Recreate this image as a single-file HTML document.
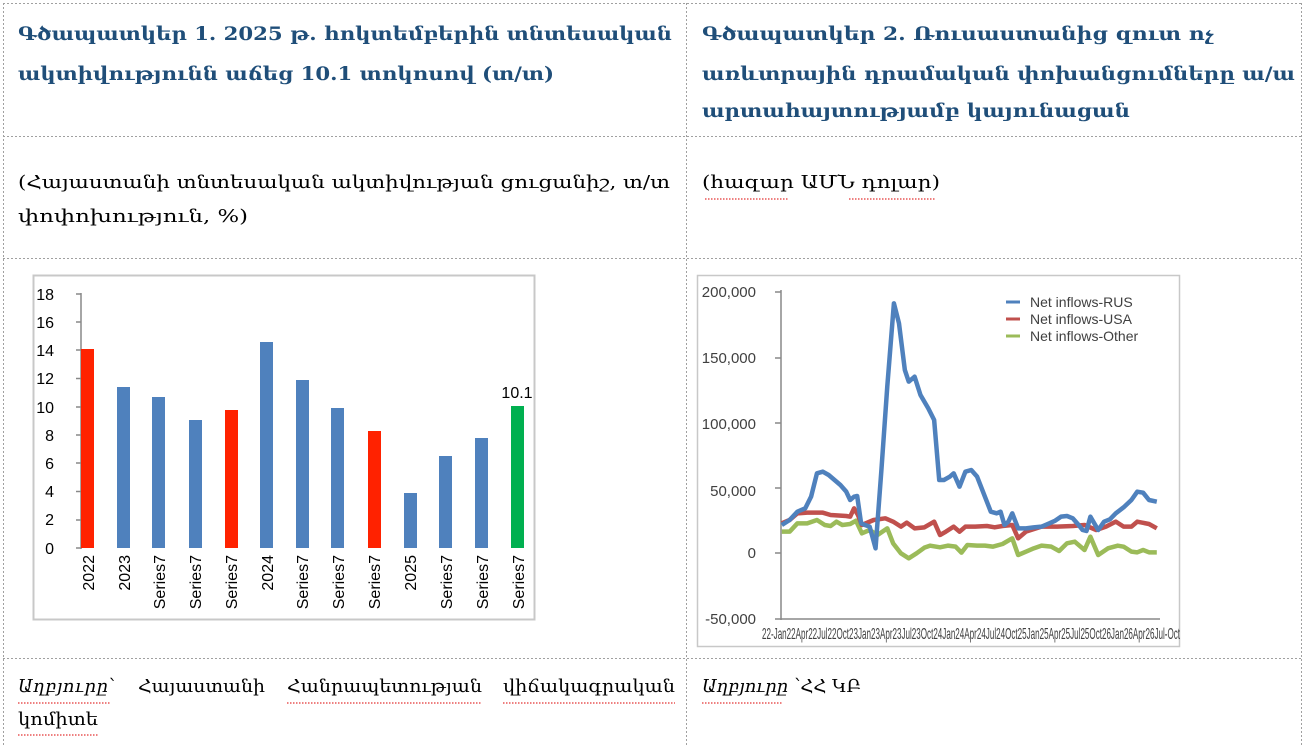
<!DOCTYPE html>
<html><head><meta charset="utf-8"><style>
html,body{margin:0;padding:0;background:#fff;}
svg{display:block}
.t{font-family:"DejaVu Serif","Liberation Serif",serif;}
.s{font-family:"Liberation Sans","DejaVu Sans",sans-serif;}
</style></head><body>
<svg width="1303" height="745" viewBox="0 0 1303 745" xmlns="http://www.w3.org/2000/svg">
<rect width="1303" height="745" fill="#fff"/>
<g stroke="#a0a0a0" stroke-width="1" stroke-dasharray="2,2" fill="none">
<line x1="3" y1="3.5" x2="1303" y2="3.5"/>
<line x1="3" y1="136.5" x2="1303" y2="136.5"/>
<line x1="3" y1="258.5" x2="1303" y2="258.5"/>
<line x1="3" y1="658.5" x2="1303" y2="658.5"/>
<line x1="3.5" y1="3" x2="3.5" y2="745"/>
<line x1="686.5" y1="3" x2="686.5" y2="745"/>
<line x1="1301.5" y1="3" x2="1301.5" y2="745"/>
</g>
<g class="t" fill="#1f4e79" font-weight="bold" font-size="19">
<text x="18" y="40" textLength="654" lengthAdjust="spacingAndGlyphs">Գծապատկեր 1. 2025 թ. հոկտեմբերին տնտեսական</text>
<text x="18" y="80" textLength="536" lengthAdjust="spacingAndGlyphs">ակտիվությունն աճեց 10.1 տոկոսով (տ/տ)</text>
<text x="702" y="40" textLength="512" lengthAdjust="spacingAndGlyphs">Գծապատկեր 2.  Ռուսաստանից զուտ ոչ</text>
<text x="702" y="80" textLength="593" lengthAdjust="spacingAndGlyphs">առևտրային դրամական փոխանցումները ա/ա</text>
<text x="702" y="117" textLength="428" lengthAdjust="spacingAndGlyphs">արտահայտությամբ կայունացան</text>
</g>
<g class="t" fill="#000" font-size="18">
<text x="18" y="188" textLength="652" lengthAdjust="spacingAndGlyphs">(Հայաստանի տնտեսական ակտիվության ցուցանիշ, տ/տ</text>
<text x="18" y="222" textLength="230" lengthAdjust="spacingAndGlyphs">փոփոխություն, %)</text>
<text x="702" y="188" textLength="238" lengthAdjust="spacingAndGlyphs">(հազար ԱՄՆ դոլար)</text>
<text x="18" y="692"><tspan font-style="italic" textLength="90">Աղբյուրը</tspan>՝</text>
<text x="138" y="692" textLength="127" lengthAdjust="spacingAndGlyphs">Հայաստանի</text>
<text x="287" y="692" textLength="195" lengthAdjust="spacingAndGlyphs">Հանրապետության</text>
<text x="503" y="692" textLength="172" lengthAdjust="spacingAndGlyphs">վիճակագրական</text>
<text x="18" y="725" textLength="80" lengthAdjust="spacingAndGlyphs">կոմիտե</text>
<text x="702" y="692"><tspan font-style="italic">Աղբյուրը</tspan> ՝ՀՀ ԿԲ</text>
</g>
<g stroke="#d00" stroke-width="1" fill="none" stroke-dasharray="1.5,1.5">
<line x1="18" y1="703" x2="110" y2="703"/><line x1="287" y1="703" x2="482" y2="703"/><line x1="503" y1="703" x2="675" y2="703"/><line x1="18" y1="735" x2="98" y2="735"/>
<line x1="702" y1="703" x2="782" y2="703"/><line x1="705" y1="199" x2="788" y2="199"/><line x1="849" y1="199" x2="935" y2="199"/>
</g>

<!-- Chart 1 -->
<rect x="33.5" y="275.5" width="501" height="344" fill="#fff" stroke="#c8c8c8" stroke-width="2"/>
<g class="s" font-size="16" fill="#000" text-anchor="end">
<text x="54" y="300">18</text><text x="54" y="328">16</text><text x="54" y="356">14</text><text x="54" y="384">12</text><text x="54" y="413">10</text><text x="54" y="441">8</text><text x="54" y="469">6</text><text x="54" y="497">4</text><text x="54" y="525">2</text><text x="54" y="554">0</text>
</g>
<g stroke="#888" stroke-width="1.5">
<line x1="81" y1="293" x2="81" y2="549"/>
<line x1="76" y1="294" x2="81" y2="294"/><line x1="76" y1="322" x2="81" y2="322"/><line x1="76" y1="350" x2="81" y2="350"/><line x1="76" y1="378.5" x2="81" y2="378.5"/><line x1="76" y1="407" x2="81" y2="407"/><line x1="76" y1="435" x2="81" y2="435"/><line x1="76" y1="463" x2="81" y2="463"/><line x1="76" y1="491.5" x2="81" y2="491.5"/><line x1="76" y1="520" x2="81" y2="520"/><line x1="76" y1="548" x2="81" y2="548"/>
</g>
<g>
<rect x="81" y="349" width="13" height="199" fill="#ff2200"/>
<rect x="117" y="387" width="13" height="161" fill="#4f81bd"/>
<rect x="152" y="397" width="13" height="151" fill="#4f81bd"/>
<rect x="189" y="420" width="13" height="128" fill="#4f81bd"/>
<rect x="225" y="410" width="13" height="138" fill="#ff2200"/>
<rect x="260" y="342" width="13" height="206" fill="#4f81bd"/>
<rect x="296" y="380" width="13" height="168" fill="#4f81bd"/>
<rect x="331" y="408" width="13" height="140" fill="#4f81bd"/>
<rect x="368" y="431" width="13" height="117" fill="#ff2200"/>
<rect x="404" y="493" width="13" height="55" fill="#4f81bd"/>
<rect x="439" y="456" width="13" height="92" fill="#4f81bd"/>
<rect x="475" y="438" width="13" height="110" fill="#4f81bd"/>
<rect x="511" y="406" width="13" height="142" fill="#00b050"/>
</g>
<text class="s" x="517" y="398" font-size="16" text-anchor="middle">10.1</text>
<g class="s" font-size="16" fill="#000" text-anchor="end">
<text transform="translate(94,555) rotate(-90)">2022</text>
<text transform="translate(130,555) rotate(-90)">2023</text>
<text transform="translate(165,555) rotate(-90)">Series7</text>
<text transform="translate(201,555) rotate(-90)">Series7</text>
<text transform="translate(237,555) rotate(-90)">Series7</text>
<text transform="translate(273,555) rotate(-90)">2024</text>
<text transform="translate(308,555) rotate(-90)">Series7</text>
<text transform="translate(344,555) rotate(-90)">Series7</text>
<text transform="translate(380,555) rotate(-90)">Series7</text>
<text transform="translate(416,555) rotate(-90)">2025</text>
<text transform="translate(452,555) rotate(-90)">Series7</text>
<text transform="translate(488,555) rotate(-90)">Series7</text>
<text transform="translate(524,555) rotate(-90)">Series7</text>
</g>

<!-- Chart 2 -->
<rect x="697.5" y="275.5" width="482" height="371" fill="#fff" stroke="#c8c8c8" stroke-width="1.5"/>
<g class="s" font-size="15" fill="#404040" text-anchor="end">
<text x="756" y="297">200,000</text><text x="756" y="363">150,000</text><text x="756" y="429">100,000</text><text x="756" y="496">50,000</text><text x="756" y="558">0</text><text x="756" y="624">-50,000</text>
</g>
<g stroke="#888" stroke-width="1.5">
<line x1="781" y1="290" x2="781" y2="620"/><line x1="781" y1="619" x2="1160" y2="619"/>
<line x1="775" y1="292" x2="781" y2="292"/><line x1="775" y1="358" x2="781" y2="358"/><line x1="775" y1="423" x2="781" y2="423"/><line x1="775" y1="488" x2="781" y2="488"/><line x1="775" y1="553" x2="781" y2="553"/><line x1="775" y1="619" x2="781" y2="619"/>
</g>
<text class="s" x="762" y="639" font-size="16" fill="#404040" textLength="418" lengthAdjust="spacingAndGlyphs">22-Jan22Apr22Jul22Oct23Jan23Apr23Jul23Oct24Jan24Apr24Jul24Oct25Jan25Apr25Jul25Oct26Jan26Apr26Jul-Oct</text>
<g transform="translate(690,270) scale(0.390625,0.33333)" fill="none" stroke-width="4.5" stroke-linejoin="round">
<polyline vector-effect="non-scaling-stroke" stroke="#9bbb59" points="235,785 255,785 275,760 300,760 325,750 345,765 360,768 375,755 390,765 410,762 425,752 440,790 460,780 480,795 505,775 520,820 540,850 560,865 580,850 600,833 615,827 640,832 660,827 680,830 695,848 710,825 735,827 755,827 775,830 800,822 825,805 840,855 860,845 880,835 900,827 925,830 945,843 965,820 985,815 1010,840 1025,800 1045,855 1070,835 1095,827 1110,830 1130,845 1145,847 1160,840 1175,847 1195,847"/>
<polyline vector-effect="non-scaling-stroke" stroke="#c0504d" points="235,760 255,750 275,730 300,728 340,728 360,735 400,738 410,740 420,715 430,735 440,765 470,750 500,745 520,755 540,770 555,758 575,775 600,772 625,755 640,795 655,785 675,770 690,785 705,770 730,770 760,768 780,772 800,768 825,765 840,805 860,785 900,770 940,770 980,768 1010,765 1040,780 1065,770 1090,755 1110,770 1130,770 1145,755 1175,762 1195,775"/>
<polyline vector-effect="non-scaling-stroke" stroke="#4f81bd" points="235,765 255,750 275,725 295,715 310,680 325,610 340,605 355,615 370,630 385,645 400,665 410,690 420,680 428,678 438,760 448,765 460,770 475,835 490,600 505,350 522,100 535,160 550,300 560,335 575,320 590,375 610,415 625,450 638,630 650,630 665,620 675,610 690,650 705,605 720,600 735,620 755,680 770,725 785,730 795,725 805,765 815,755 825,730 840,775 860,775 880,772 900,770 920,760 935,752 950,740 965,738 980,745 995,765 1005,780 1015,783 1025,740 1035,760 1045,780 1060,755 1075,748 1090,730 1110,712 1130,690 1145,665 1160,668 1175,690 1195,695"/>
</g>
<g stroke-width="3">
<line x1="1006" y1="302" x2="1020" y2="302" stroke="#4f81bd"/>
<line x1="1006" y1="319" x2="1020" y2="319" stroke="#c0504d"/>
<line x1="1006" y1="336" x2="1020" y2="336" stroke="#9bbb59"/>
</g>
<g class="s" font-size="14" fill="#404040">
<text x="1030" y="307">Net inflows-RUS</text>
<text x="1030" y="324">Net inflows-USA</text>
<text x="1030" y="341">Net inflows-Other</text>
</g>
</svg>
</body></html>
